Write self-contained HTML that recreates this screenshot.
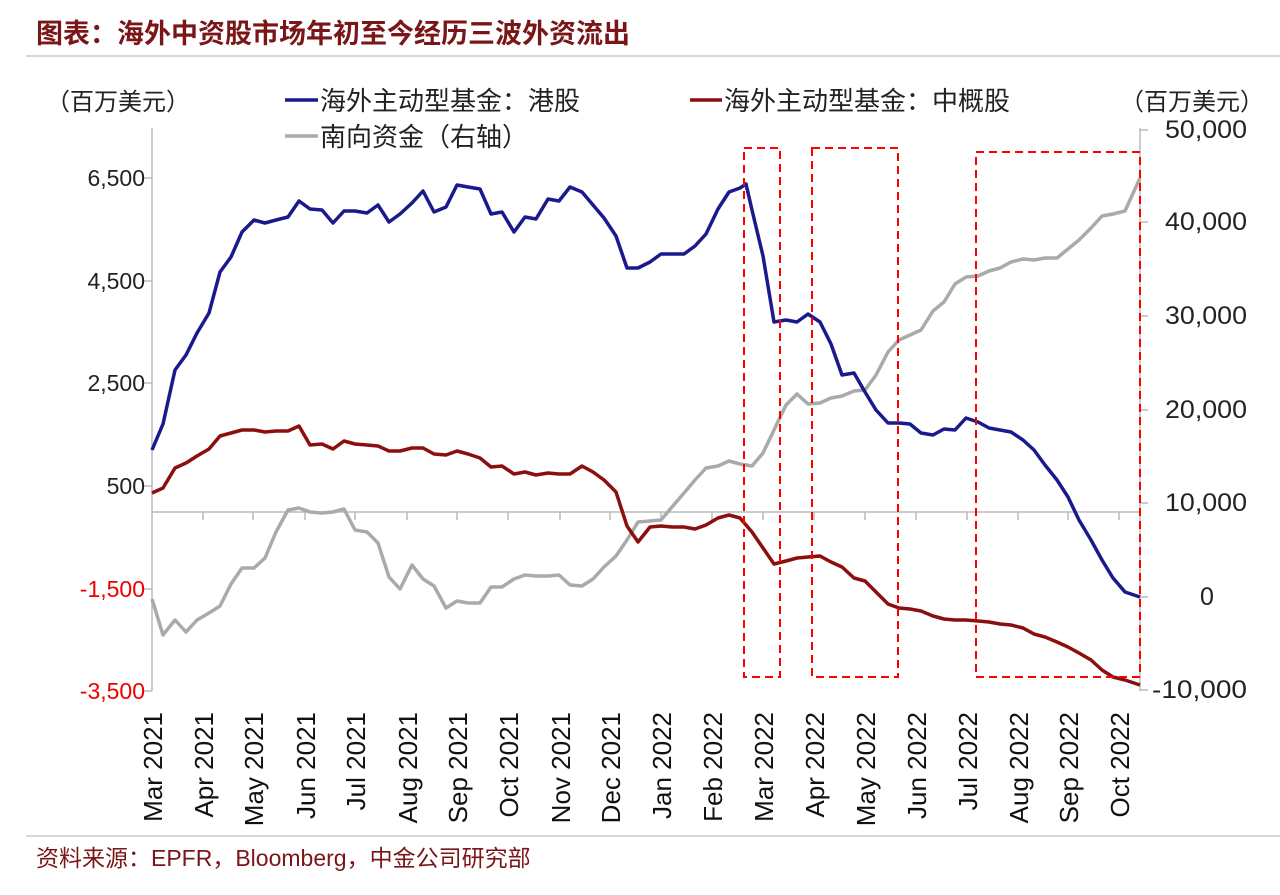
<!DOCTYPE html>
<html><head><meta charset="utf-8"><style>
body{margin:0;background:#fff;width:1280px;height:890px;overflow:hidden;font-family:"Liberation Sans","Noto Sans CJK SC",sans-serif}
</style></head><body>
<svg width="1280" height="890" xmlns="http://www.w3.org/2000/svg" font-family="Liberation Sans, Noto Sans CJK SC, sans-serif">
<text x="36" y="43" font-size="27" font-weight="bold" fill="#7a1618">图表：海外中资股市场年初至今经历三波外资流出</text>
<line x1="26" y1="56" x2="1280" y2="56" stroke="#ccc" stroke-width="1.5"/>
<text x="46" y="110" font-size="24" fill="#222">（百万美元）</text>
<text x="1120" y="110" font-size="24" fill="#222">（百万美元）</text>
<line x1="285" y1="100" x2="318" y2="100" stroke="#1a1a8c" stroke-width="3.5"/>
<text x="320" y="110" font-size="26" fill="#222">海外主动型基金：港股</text>
<line x1="690" y1="100" x2="722" y2="100" stroke="#8b0f0f" stroke-width="3.5"/>
<text x="724" y="110" font-size="26" fill="#222">海外主动型基金：中概股</text>
<line x1="285" y1="136" x2="318" y2="136" stroke="#aaa" stroke-width="3.5"/>
<text x="320" y="146" font-size="26" fill="#222">南向资金（右轴）</text>
<g stroke="#bbb" stroke-width="1.5">
<line x1="152" y1="128" x2="152" y2="691"/>
<line x1="1140" y1="128" x2="1140" y2="691"/>
<line x1="152" y1="512" x2="1140" y2="512"/>
<line x1="144" y1="178" x2="152" y2="178"/><line x1="144" y1="281" x2="152" y2="281"/><line x1="144" y1="383" x2="152" y2="383"/><line x1="144" y1="486" x2="152" y2="486"/><line x1="144" y1="589" x2="152" y2="589"/><line x1="144" y1="691" x2="152" y2="691"/>
<line x1="1140" y1="130" x2="1148" y2="130"/><line x1="1140" y1="222" x2="1148" y2="222"/><line x1="1140" y1="316" x2="1148" y2="316"/><line x1="1140" y1="410" x2="1148" y2="410"/><line x1="1140" y1="503" x2="1148" y2="503"/><line x1="1140" y1="597" x2="1148" y2="597"/><line x1="1140" y1="690" x2="1148" y2="690"/>
<path d="M203 512v8M253 512v8M305 512v8M355 512v8M407 512v8M457 512v8M508 512v8M560 512v8M610 512v8M661 512v8M712 512v8M763 512v8M814 512v8M865 512v8M916 512v8M967 512v8M1018 512v8M1068 512v8M1119 512v8"/>
</g>
<g font-size="23" text-anchor="end" fill="#222">
<text x="145" y="186">6,500</text><text x="145" y="289">4,500</text><text x="145" y="391">2,500</text><text x="145" y="494">500</text>
<text x="145" y="597" fill="#e00">-1,500</text><text x="145" y="699" fill="#e00">-3,500</text>
</g>
<g font-size="25" text-anchor="start" fill="#222">
<text x="1165" y="138" textLength="82" lengthAdjust="spacingAndGlyphs">50,000</text><text x="1165" y="230" textLength="82" lengthAdjust="spacingAndGlyphs">40,000</text><text x="1165" y="324" textLength="82" lengthAdjust="spacingAndGlyphs">30,000</text><text x="1165" y="418" textLength="82" lengthAdjust="spacingAndGlyphs">20,000</text><text x="1165" y="511" textLength="82" lengthAdjust="spacingAndGlyphs">10,000</text><text x="1200" y="605">0</text><text x="1152" y="698" textLength="95" lengthAdjust="spacingAndGlyphs">-10,000</text>
</g>
<g font-size="26" fill="#111" text-anchor="end">
<text transform="translate(162,712) rotate(-90)">Mar 2021</text>
<text transform="translate(213,712) rotate(-90)">Apr 2021</text>
<text transform="translate(263,712) rotate(-90)">May 2021</text>
<text transform="translate(315,712) rotate(-90)">Jun 2021</text>
<text transform="translate(365,712) rotate(-90)">Jul 2021</text>
<text transform="translate(417,712) rotate(-90)">Aug 2021</text>
<text transform="translate(467,712) rotate(-90)">Sep 2021</text>
<text transform="translate(518,712) rotate(-90)">Oct 2021</text>
<text transform="translate(570,712) rotate(-90)">Nov 2021</text>
<text transform="translate(620,712) rotate(-90)">Dec 2021</text>
<text transform="translate(671,712) rotate(-90)">Jan 2022</text>
<text transform="translate(722,712) rotate(-90)">Feb 2022</text>
<text transform="translate(773,712) rotate(-90)">Mar 2022</text>
<text transform="translate(824,712) rotate(-90)">Apr 2022</text>
<text transform="translate(875,712) rotate(-90)">May 2022</text>
<text transform="translate(926,712) rotate(-90)">Jun 2022</text>
<text transform="translate(977,712) rotate(-90)">Jul 2022</text>
<text transform="translate(1028,712) rotate(-90)">Aug 2022</text>
<text transform="translate(1078,712) rotate(-90)">Sep 2022</text>
<text transform="translate(1129,712) rotate(-90)">Oct 2022</text>
</g>
<polyline fill="none" stroke="#aaa" stroke-width="3.5" stroke-linejoin="round" points="152,599 163,635 175,620 186,632 197,620 209,613 220,606 231,584 242,568 254,568 265,558 276,532 288,510 299,508 310,512 322,513 333,512 344,509 355,530 367,532 378,543 389,577 400,589 412,565 423,579 434,586 446,608 457,601 468,603 480,603 491,587 502,587 514,579 525,575 536,576 548,576 559,575 570,585 582,586 593,579 604,567 616,556 627,540 638,522 650,521 661,520 672,507 684,493 695,480 706,468 718,466 729,461 740,464 752,466 763,453 774,430 786,405 797,394 808,404 820,403 831,398 842,396 854,391 865,390 876,375 888,352 899,340 910,335 921,330 933,311 944,302 955,284 966,277 978,276 989,271 1000,268 1011,262 1023,259 1034,260 1045,258 1057,258 1068,249 1079,240 1091,228 1102,216 1113,214 1125,211 1140,178"/>
<polyline fill="none" stroke="#1a1a8c" stroke-width="3.5" stroke-linejoin="round" points="152,450 163,424 175,370 186,355 197,333 209,313 220,272 231,257 242,232 254,220 265,223 276,220 288,217 299,201 310,209 322,210 333,223 344,211 355,211 367,213 378,205 389,222 400,214 412,203 423,191 434,212 446,207 457,185 468,187 480,189 491,214 502,212 514,232 525,217 536,219 548,199 559,201 570,187 582,192 593,205 604,218 616,236 627,268 638,268 650,262 661,254 672,254 684,254 695,246 706,234 718,209 729,192 740,188 746,184 752,210 763,256 774,322 786,320 797,322 808,314 820,322 831,344 842,375 854,373 865,392 876,410 888,423 899,423 910,424 921,433 933,435 944,429 955,430 966,418 978,422 989,428 1000,430 1011,432 1023,440 1034,450 1045,465 1057,480 1068,497 1079,520 1091,540 1102,560 1113,578 1125,592 1140,597"/>
<polyline fill="none" stroke="#8b0f0f" stroke-width="3.5" stroke-linejoin="round" points="152,493 163,488 175,468 186,463 197,456 209,449 220,436 231,433 242,430 254,430 265,432 276,431 288,431 299,426 310,445 322,444 333,449 344,441 355,444 367,445 378,446 389,451 400,451 412,448 423,448 434,454 446,455 457,451 468,454 480,458 491,467 502,466 514,474 525,472 536,475 548,473 559,474 570,474 582,466 593,472 604,480 616,492 627,526 638,542 650,527 661,526 672,527 684,527 695,529 706,525 718,518 729,515 740,518 752,532 763,548 774,564 786,561 797,558 808,557 820,556 831,562 842,567 854,578 865,581 876,592 888,604 899,608 910,609 921,611 933,616 944,619 955,620 966,620 978,621 989,622 1000,624 1011,625 1023,628 1034,634 1045,637 1057,642 1068,647 1079,653 1091,660 1102,670 1113,677 1125,680 1140,685"/>
<g fill="none" stroke="#f00" stroke-width="2" stroke-dasharray="8,5">
<rect x="744" y="148" width="36" height="529"/>
<rect x="812" y="148" width="86" height="529"/>
<rect x="976" y="152" width="164" height="525"/>
</g>
<line x1="26" y1="836" x2="1280" y2="836" stroke="#ccc" stroke-width="1.5"/>
<text x="36" y="866" font-size="23" fill="#7a1618">资料来源：EPFR，Bloomberg，中金公司研究部</text>
</svg>
</body></html>
